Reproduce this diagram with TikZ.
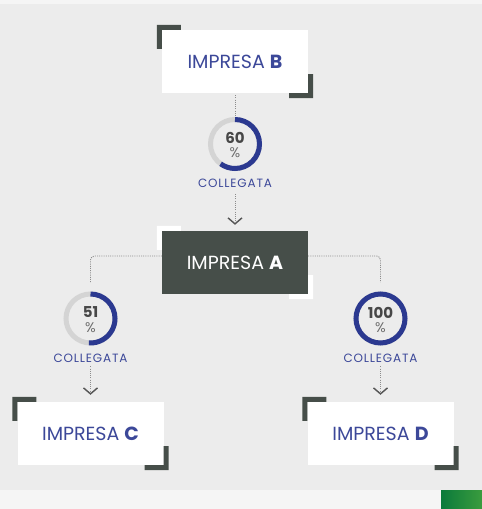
\documentclass[tikz,border=0pt]{standalone}
\usepackage{fontspec}
\setmainfont{Poppins}
\usetikzlibrary{arrows.meta}
\usetikzlibrary{positioning}

\begin{document}
\begin{tikzpicture}[x=1pt, y=1pt,
	box/.style={minimum width=146pt, minimum height=63pt, inner sep=0pt, font=\fontsize{19}{22}\selectfont},
	ring/.style={circle, draw=ringgray, line width=5pt, minimum size=49pt, inner sep=0pt},
	num/.style={inner sep=0pt, text=numgray, font=\fontsize{15}{15}\selectfont\bfseries},
	pct/.style={inner sep=0pt, text=pctgray, font=\fontsize{14}{14}\selectfont},
	tag/.style={text=txtblue, inner sep=0pt, font=\fontsize{12}{14}\selectfont\addfontfeature{LetterSpace=7}},
	link/.style={draw=linegray, line width=0.9pt, dash pattern=on 1pt off 1.2pt},
	pointer/.style={link, -{Straight Barb[length=6pt, width=14pt, line width=1.4pt, color=arrowgray]}}]

% Colors
\definecolor{bggray}{HTML}{ECECEC}
\definecolor{stripgray}{HTML}{F5F5F5}
\definecolor{boxdark}{HTML}{464E49}
\definecolor{txtblue}{HTML}{3C4899}
\definecolor{ringblue}{HTML}{2B3990}
\definecolor{ringgray}{HTML}{D4D4D4}
\definecolor{numgray}{HTML}{474747}
\definecolor{pctgray}{HTML}{6E6E6E}
\definecolor{linegray}{HTML}{8C8C8C}
\definecolor{arrowgray}{HTML}{555555}
\definecolor{greendark}{HTML}{0B7A3B}
\definecolor{greenlight}{HTML}{3A9C3E}

% Background
\fill[bggray] (0,0) rectangle (482,509);
\fill[stripgray] (0,505) rectangle (482,509);
\fill[stripgray] (0,0) rectangle (482,19);
\shade[left color=greendark, right color=greenlight] (441,0) rectangle (482,18);

% Companies
\node[box, fill=white] (B) at (235,447.5) {\color{txtblue}IMPRESA \textbf{B}};
\node[box, fill=boxdark] (A) at (235,246.5) {\color{white}IMPRESA \textbf{A}};
\node[box, fill=white] (C) at (90.5,75.5) {\color{txtblue}IMPRESA \textbf{C}};
\node[box, fill=white] (D) at (380.5,75.5) {\color{txtblue}IMPRESA \textbf{D}};

% Corner brackets
\foreach \n/\c in {B/boxdark, A/white, C/boxdark, D/boxdark}{
	\fill[\c] ([shift={(-5,5)}]\n.north west) -- ++(24,0) -- ++(0,-5) -- ++(-19,0) -- ++(0,-19) -- ++(-5,0) -- cycle;
	\fill[\c] ([shift={(5,-5)}]\n.south east) -- ++(-24,0) -- ++(0,5) -- ++(19,0) -- ++(0,19) -- ++(5,0) -- cycle;
}

% Shares
\node[ring] (p60) at (235,365) {};
\node[ring] (p51) at (90.5,190.5) {};
\node[ring] (p100) at (380.5,190.5) {};
\draw[ringblue, line width=5pt] (p60.center) ++(0,24.5) arc[start angle=90, end angle=-126, radius=24.5];
\draw[ringblue, line width=5pt] (p51.center) ++(0,24.5) arc[start angle=90, end angle=-93.6, radius=24.5];
\draw[ringblue, line width=5pt] (p100.center) circle[radius=24.5];

\foreach \p/\v in {p60/60, p51/51, p100/100}{
	\node[num] (n\v) at ([yshift=6]\p.center) {\v};
	\node[pct] (c\v) at ([yshift=-9]\p.center) {\%};
	\node[tag, below=8pt of \p] (l\v) {COLLEGATA};
}

% Connections
\draw[link, shorten <=2pt, shorten >=1pt] (B.south) -- (p60.north);
\draw[pointer, shorten <=6pt, shorten >=6pt] (l60.south) -- (A.north);
\draw[link, rounded corners=4pt, shorten >=9pt] ([yshift=6.5]A.west) -| (p51.north);
\draw[link, rounded corners=4pt, shorten >=9pt] ([yshift=6.5]A.east) -| (p100.north);
\draw[pointer, shorten <=4pt, shorten >=7pt] (l51.south) -- (C.north);
\draw[pointer, shorten <=4pt, shorten >=7pt] (l100.south) -- (D.north);
\end{tikzpicture}
\end{document}
